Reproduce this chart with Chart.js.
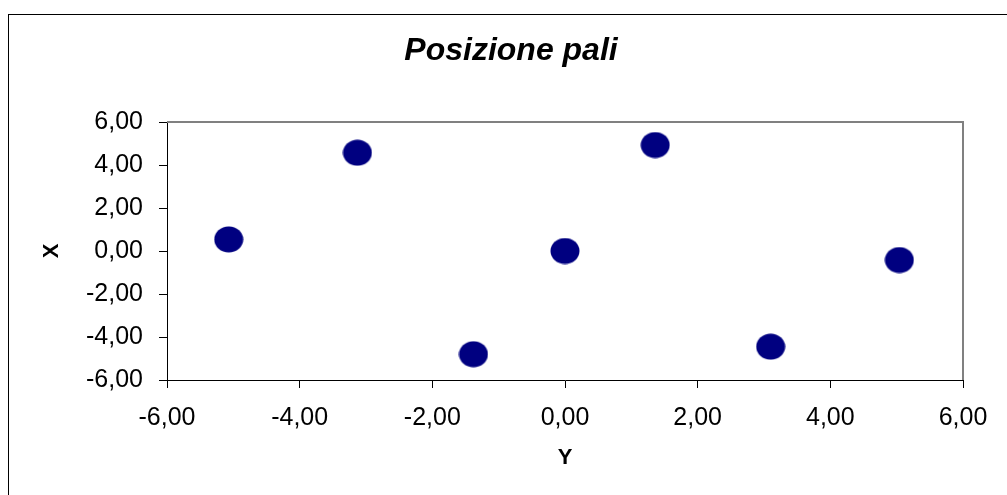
<!DOCTYPE html>
<html>
<head>
<meta charset="utf-8">
<script src="https://cdn.jsdelivr.net/npm/chart.js@4"></script>
<style>
  html, body { margin: 0; padding: 0; background: #fff; }
  #wrap { position: relative; width: 1007px; height: 495px; overflow: hidden; }
  #frame { position: absolute; left: 8px; top: 14px; width: 1100px; height: 600px; border: 1px solid #000; }
  canvas { position: absolute; left: 0; top: 0; }
</style>
</head>
<body>
<div id="wrap">
  <div id="frame"></div>
  <canvas id="myChart" width="1007" height="495"></canvas>
</div>
<script>
// posizione dei pali (asse orizzontale = Y, asse verticale = X)
const paliY = [-5.07, -3.13, -1.38, 0.00, 1.36, 3.10, 5.04];
const paliX = [0.54, 4.57, -4.80, 0.00, 4.93, -4.45, -0.42];
const tickValues = [-6, -4, -2, 0, 2, 4, 6];
const titolo = 'Posizione pali';

const ctx = document.querySelector('#myChart');

// marcatore ellittico come in Excel
const marker = document.createElement('canvas');
marker.width = 30;
marker.height = 27;
const mctx = marker.getContext('2d');
mctx.fillStyle = '#000080';
mctx.beginPath();
mctx.ellipse(15, 13.5, 14.5, 13, 0, 0, Math.PI * 2);
mctx.fill();

const fmt = v => v.toFixed(2).replace('.', ',');
const fontFamily = '"Liberation Sans", Arial, sans-serif';

// bordo grigio sopra e a destra dell'area del grafico + titolo centrato sulla cornice
const plotFrame = {
  id: 'plotFrame',
  afterDraw(chart) {
    const a = chart.chartArea;
    const c = chart.ctx;
    c.save();
    c.strokeStyle = '#808080';
    c.lineWidth = 2;
    c.beginPath();
    c.moveTo(a.left, a.top);
    c.lineTo(a.right, a.top);
    c.lineTo(a.right, a.bottom);
    c.stroke();

    c.fillStyle = '#000';
    c.font = 'italic bold 32px ' + fontFamily;
    c.textAlign = 'center';
    c.textBaseline = 'alphabetic';
    c.fillText(titolo, 511, 60);
    c.restore();
  }
};

const palChart = new Chart(ctx, {
  type: 'scatter',
  data: {
    datasets: [{
      label: 'Pali',
      data: paliY.map((y, i) => ({ x: y, y: paliX[i] })),
      pointStyle: marker,
      pointRadius: 14,
      pointHoverRadius: 14
    }]
  },
  options: {
    responsive: false,
    animation: false,
    layout: { padding: { left: 0, top: 122, right: 44, bottom: 0 } },
    plugins: {
      legend: { display: false },
      tooltip: { enabled: false },
      title: { display: false }
    },
    scales: {
      x: {
        type: 'linear',
        min: -6,
        max: 6,
        afterBuildTicks: s => { s.ticks = tickValues.map(v => ({ value: v })); },
        afterFit: s => { s.height = 115; },
        ticks: {
          color: '#000',
          padding: 15,
          font: { family: fontFamily, size: 25 },
          callback: v => fmt(v)
        },
        grid: { drawOnChartArea: false, color: '#000', tickLength: 8 },
        border: { color: '#000', width: 1 },
        title: {
          display: true,
          text: 'Y',
          color: '#000',
          font: { family: fontFamily, size: 22, weight: 'bold' },
          padding: { top: 0, bottom: 24 }
        }
      },
      y: {
        type: 'linear',
        min: -6,
        max: 6,
        afterBuildTicks: s => { s.ticks = tickValues.map(v => ({ value: v })); },
        afterFit: s => { s.width = 167; },
        ticks: {
          color: '#000',
          padding: 16,
          font: { family: fontFamily, size: 25 },
          callback: v => fmt(v)
        },
        grid: { drawOnChartArea: false, color: '#000', tickLength: 8 },
        border: { color: '#000', width: 1 },
        title: {
          display: true,
          text: 'X',
          color: '#000',
          font: { family: fontFamily, size: 22, weight: 'bold' },
          padding: { top: 39, bottom: 0 }
        }
      }
    }
  },
  plugins: [plotFrame]
});
</script>
</body>
</html>
